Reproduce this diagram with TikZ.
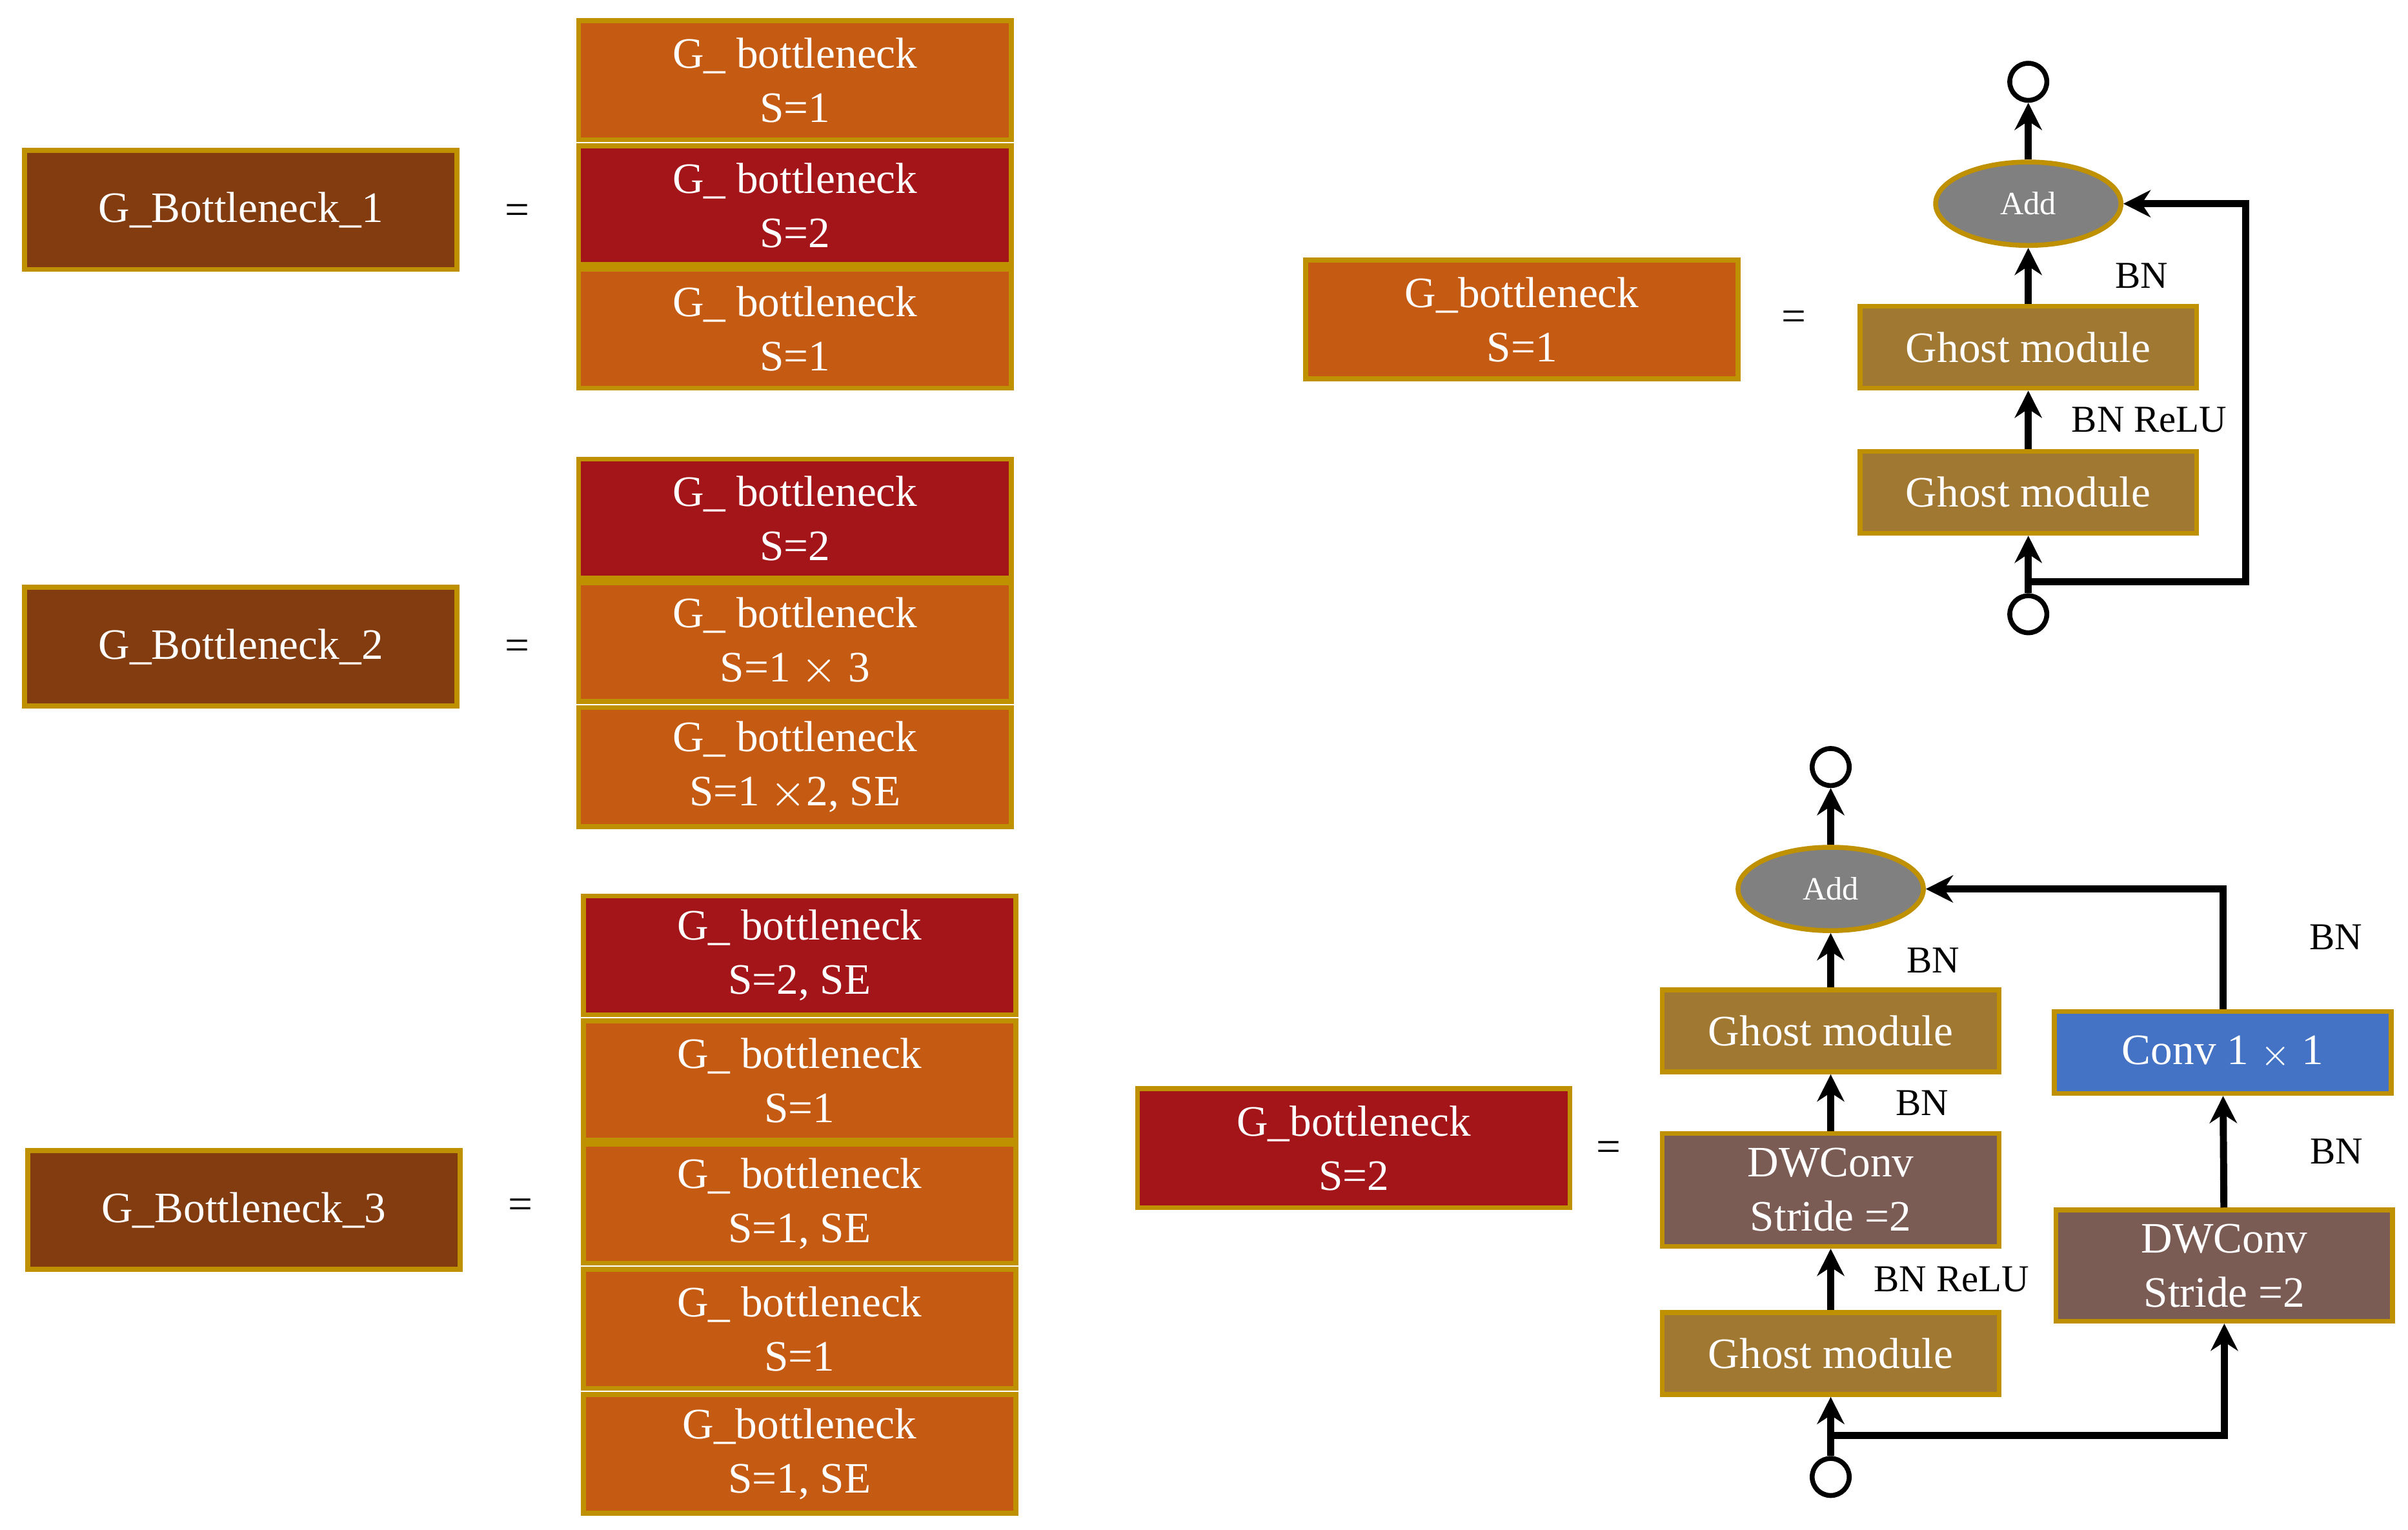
\documentclass[tikz,border=0pt]{standalone}
\usepackage{fontspec}
\setmainfont{Liberation Serif}
\usetikzlibrary{arrows.meta,shapes.geometric}
\definecolor{Outer}{RGB}{130,60,15}
\definecolor{StrideOne}{RGB}{197,90,18}
\definecolor{StrideTwo}{RGB}{163,21,24}
\definecolor{Ghost}{RGB}{160,120,50}
\definecolor{DWConv}{RGB}{122,92,85}
\definecolor{Pointwise}{RGB}{68,114,196}
\definecolor{AddGray}{RGB}{128,128,128}
\definecolor{Rim}{RGB}{191,144,0}
\begin{document}
\begin{tikzpicture}[x=0.01cm, y=-0.01cm, font=\fontsize{8}{10}\selectfont]
			\tikzstyle{box}=[draw=Rim, line width=0.9pt, shape=rectangle, minimum width=2.8cm, minimum height=0.77cm, inner sep=0pt, align=center, text=white]
			\tikzstyle{module}=[box, minimum width=2.18cm, minimum height=0.53cm]
			\tikzstyle{adder}=[draw=Rim, line width=0.9pt, ellipse, fill=AddGray, minimum width=1.2cm, minimum height=0.54cm, inner sep=0pt, text=white, font=\fontsize{6}{7}\selectfont]
			\tikzstyle{port}=[draw, line width=0.9pt, circle, minimum size=0.24cm, inner sep=0pt]
			\tikzstyle{flow}=[draw, line width=1.3pt, -{Stealth[length=5pt,width=5pt]}]
			\tikzstyle{lbl}=[font=\fontsize{7}{8}\selectfont]
			\useasboundingbox (0,0) rectangle (1560,991);
			% left column
			\node [box, fill=Outer] (b1) at (156,136) {G\_Bottleneck\_1};
			\node [box, fill=Outer] (b2) at (156,419) {G\_Bottleneck\_2};
			\node [box, fill=Outer] (b3) at (158,784) {G\_Bottleneck\_3};
			\node (e1) at (335,139) {=};
			\node (e2) at (335,421) {=};
			\node (e3) at (337,783) {=};
			% stacks
			\node [box, fill=StrideOne] (s11) at (515,52) {G\_ bottleneck\\S=1};
			\node [box, fill=StrideTwo] (s12) at (515,133) {G\_ bottleneck\\S=2};
			\node [box, fill=StrideOne] (s13) at (515,213) {G\_ bottleneck\\S=1};
			\node [box, fill=StrideTwo] (s21) at (515,336) {G\_ bottleneck\\S=2};
			\node [box, fill=StrideOne] (s22) at (515,416) {G\_ bottleneck\\S=1 $\times$ 3};
			\node [box, fill=StrideOne] (s23) at (515,497) {G\_ bottleneck\\S=1 $\times$2, SE};
			\node [box, fill=StrideTwo] (s31) at (518,619) {G\_ bottleneck\\S=2, SE};
			\node [box, fill=StrideOne] (s32) at (518,700) {G\_ bottleneck\\S=1};
			\node [box, fill=StrideOne] (s33) at (518,780) {G\_ bottleneck\\S=1, SE};
			\node [box, fill=StrideOne] (s34) at (518,861) {G\_ bottleneck\\S=1};
			\node [box, fill=StrideOne] (s35) at (518,942) {G\_bottleneck\\S=1, SE};
			% stride 1 block
			\node [box, fill=StrideOne] (g1) at (986,207) {G\_bottleneck\\S=1};
			\node (e4) at (1162,208) {=};
			\node [port] (in1) at (1314,398) {};
			\node [module, fill=Ghost] (gm12) at (1314,319) {Ghost module};
			\node [module, fill=Ghost] (gm11) at (1314,225) {Ghost module};
			\node [adder] (add1) at (1314,132) {Add};
			\node [port] (out1) at (1314,53) {};
			\coordinate (j1) at (1314,377);
			\coordinate (c1) at (1455,377);
			\draw [flow] (in1) -- (gm12);
			\draw [flow] (gm12) -- node [lbl, right, xshift=4pt] {BN ReLU} (gm11);
			\draw [flow] (gm11) -- node [lbl, right, xshift=12pt] {BN} (add1);
			\draw [flow] (add1) -- (out1);
			\draw [flow] (j1) -- (c1) |- (add1);
			% stride 2 block
			\node [box, fill=StrideTwo] (g2) at (877,744) {G\_bottleneck\\S=2};
			\node (e5) at (1042,746) {=};
			\node [port] (in2) at (1186,957) {};
			\node [module, fill=Ghost] (gm22) at (1186,877) {Ghost module};
			\node [module, fill=DWConv, minimum height=0.73cm] (dw1) at (1186,771) {DWConv\\Stride =2};
			\node [module, fill=Ghost] (gm21) at (1186,668) {Ghost module};
			\node [adder] (add2) at (1186,576) {Add};
			\node [port] (out2) at (1186,497) {};
			\node [module, fill=DWConv, minimum height=0.72cm] (dw2) at (1441,820) {DWConv\\Stride =2};
			\node [module, fill=Pointwise] (pw) at (1440,682) {Conv 1 {\fontsize{6}{7}\selectfont$\times$} 1};
			\coordinate (j2) at (1186,930);
			\draw [flow] (in2) -- (gm22);
			\draw [flow] (gm22) -- node [lbl, right, xshift=4pt] {BN ReLU} (dw1);
			\draw [flow] (dw1) -- node [lbl, right, xshift=8pt] {BN} (gm21);
			\draw [flow] (gm21) -- node [lbl, right, xshift=10pt] {BN} (add2);
			\draw [flow] (add2) -- (out2);
			\draw [flow] (j2) -| (dw2);
			\draw [flow] (dw2) -- node [lbl, right, xshift=12pt] {BN} (pw);
			\draw [flow] (pw) |- node [lbl, pos=0.3, right, xshift=12pt] {BN} (add2);
		\end{tikzpicture}
\end{document}
